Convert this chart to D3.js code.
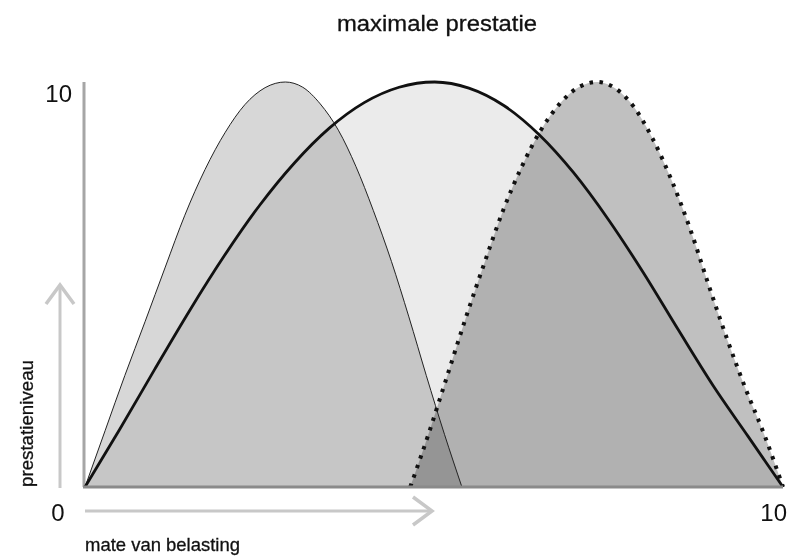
<!DOCTYPE html>
<html>
<head>
<meta charset="utf-8">
<script src="https://cdn.jsdelivr.net/npm/d3@7/dist/d3.min.js"></script>
<style>
html,body{margin:0;padding:0;background:#fff;}
svg{display:block;font-family:"Liberation Sans",Arial,Helvetica,sans-serif;}
</style>
</head>
<body>
<svg id="chart" width="791" height="556"></svg>
<script>
// ---- data (x: mate van belasting 0-10, y: prestatieniveau 0-10) ----
const title = "maximale prestatie";
const xLabel = "mate van belasting";
const yLabel = "prestatieniveau";
const xTickLabels = ["0", "10"];
const yTickLabels = ["10"];

// left curve (thin line)
const leftX = [0, 0.29, 0.57, 0.86, 1.15, 1.43, 1.72, 2.01, 2.29, 2.58, 2.87,
               3.12, 3.37, 3.63, 3.88, 4.13, 4.39, 4.64, 4.89, 5.15, 5.40];
const leftY = [0, 1.40, 2.75, 4.08, 5.43, 6.71, 7.84, 8.76, 9.44, 9.86, 10,
               9.87, 9.46, 8.81, 7.92, 6.83, 5.57, 4.20, 2.75, 1.30, 0];

// middle curve (thick line)
const midX = [0, 0.5, 1.0, 1.5, 2.0, 2.5, 3.0, 3.5, 4.0, 4.5, 5.01,
              5.5, 6.0, 6.5, 7.0, 7.5, 8.0, 8.5, 9.0, 9.5, 10];
const midY = [0, 1.43, 2.91, 4.36, 5.72, 6.95, 8.00, 8.86, 9.49, 9.87, 10,
              9.85, 9.42, 8.71, 7.76, 6.60, 5.29, 3.88, 2.50, 1.25, 0];

// right curve (dotted line)
const rightX = [4.66, 4.92, 5.19, 5.46, 5.73, 5.99, 6.26, 6.53, 6.80, 7.07, 7.34,
                7.60, 7.87, 8.13, 8.40, 8.67, 8.93, 9.20, 9.47, 9.73, 10];
const rightY = [0, 1.30, 2.75, 4.20, 5.57, 6.83, 7.92, 8.81, 9.46, 9.87, 10,
                9.84, 9.37, 8.61, 7.59, 6.37, 5.01, 3.65, 2.40, 1.30, 0];

const series = [
  {name: "links", xs: leftX, ys: leftY, fill: "#d7d7d7", stroke: "#222", width: 1, dash: null},
  {name: "midden", xs: midX, ys: midY, fill: "#ebebeb", stroke: "#111", width: 2.8, dash: null},
  {name: "rechts", xs: rightX, ys: rightY, fill: "#c0c0c0", stroke: "#111", width: 4, dash: "3.5 6.5"}
];

// ---- scales ----
const x = d3.scaleLinear().domain([0, 10]).range([85, 783]);
const y = d3.scaleLinear().domain([0, 10]).range([487, 82]);

const svg = d3.select("#chart");

// title
svg.append("text")
  .attr("x", 437).attr("y", 31)
  .attr("text-anchor", "middle")
  .attr("font-size", 22)
  .attr("textLength", 200).attr("lengthAdjust", "spacingAndGlyphs")
  .attr("fill", "#111").attr("stroke", "#111").attr("stroke-width", 0.3)
  .text(title);

// fills with multiply blending
const area = d3.area().x(d => x(d[0])).y0(y(0)).y1(d => y(d[1])).curve(d3.curveMonotoneX);
const line = d3.line().x(d => x(d[0])).y(d => y(d[1])).curve(d3.curveMonotoneX);

const fills = svg.append("g").style("isolation", "isolate");
series.forEach(s => {
  const pts = s.xs.map((v, i) => [v, s.ys[i]]);
  fills.append("path")
    .attr("d", area(pts))
    .attr("fill", s.fill)
    .style("mix-blend-mode", "multiply");
});

// y axis line
svg.append("line")
  .attr("x1", x(0) - 1).attr("x2", x(0) - 1)
  .attr("y1", y(10)).attr("y2", y(0))
  .attr("stroke", "#a6a6a6").attr("stroke-width", 3);

// strokes
series.forEach(s => {
  const pts = s.xs.map((v, i) => [v, s.ys[i]]);
  const p = svg.append("path")
    .attr("d", line(pts))
    .attr("fill", "none")
    .attr("stroke", s.stroke)
    .attr("stroke-width", s.width)
    .attr("stroke-linejoin", "round");
  if (s.dash) p.attr("stroke-dasharray", s.dash);
});

// x axis line
svg.append("line")
  .attr("x1", x(0) - 2).attr("x2", x(10))
  .attr("y1", y(0)).attr("y2", y(0))
  .attr("stroke", "#8a8a8a").attr("stroke-width", 3);

// arrows
const arrowColor = "#c8c8c8";
const ax = 60, ayTop = y(5) + 0.5;
svg.append("line").attr("x1", ax).attr("x2", ax).attr("y1", y(0) + 1).attr("y2", ayTop + 1)
  .attr("stroke", arrowColor).attr("stroke-width", 3);
svg.append("polyline")
  .attr("points", `${ax - 14},${ayTop + 19} ${ax},${ayTop} ${ax + 14},${ayTop + 19}`)
  .attr("fill", "none").attr("stroke", arrowColor).attr("stroke-width", 3.5);

const ay = 511, axRight = x(5) - 2;
svg.append("line").attr("x1", x(0)).attr("x2", axRight - 1).attr("y1", ay).attr("y2", ay)
  .attr("stroke", arrowColor).attr("stroke-width", 3);
svg.append("polyline")
  .attr("points", `${axRight - 19},${ay - 14} ${axRight},${ay} ${axRight - 19},${ay + 14}`)
  .attr("fill", "none").attr("stroke", arrowColor).attr("stroke-width", 3.5);

// tick labels
const tickStyle = sel => sel.attr("font-size", 24).attr("fill", "#111");
svg.append("text").attr("x", 58).attr("y", 521).attr("text-anchor", "middle")
  .call(tickStyle).text(xTickLabels[0]);
svg.append("text").attr("x", x(10) + 4).attr("y", 521).attr("text-anchor", "end")
  .call(tickStyle).text(xTickLabels[1]);
svg.append("text").attr("x", 72).attr("y", 102).attr("text-anchor", "end")
  .call(tickStyle).text(yTickLabels[0]);

// axis labels
svg.append("text").attr("x", 85).attr("y", 551)
  .attr("font-size", 18.5).attr("fill", "#111").attr("stroke", "#111").attr("stroke-width", 0.3)
  .attr("textLength", 155).attr("lengthAdjust", "spacingAndGlyphs")
  .text(xLabel);
svg.append("text")
  .attr("transform", "translate(33,487) rotate(-90)")
  .attr("font-size", 18.5).attr("fill", "#111").attr("stroke", "#111").attr("stroke-width", 0.3)
  .attr("textLength", 127).attr("lengthAdjust", "spacingAndGlyphs")
  .text(yLabel);
</script>
</body>
</html>
